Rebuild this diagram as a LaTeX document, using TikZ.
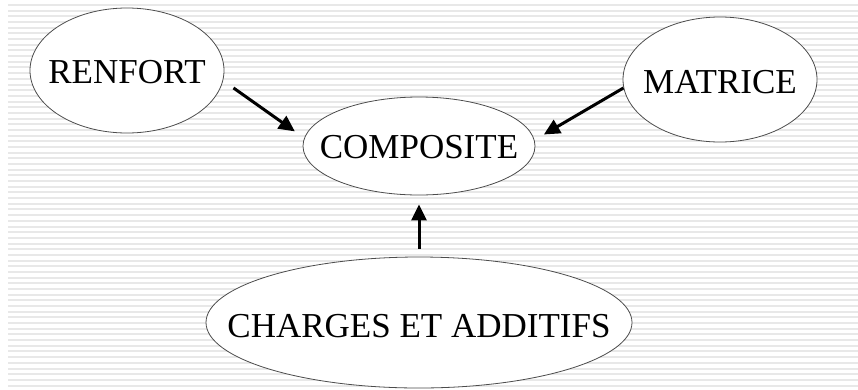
\documentclass[tikz,border=0pt]{standalone}
\usepackage{fontspec}
\setmainfont{Liberation Serif}
\usetikzlibrary{shapes.geometric,arrows.meta}
\tikzset{
  stripe/.style={fill=black!9},
  ell/.style={ellipse, draw=black!70, line width=0.8pt, fill=white, inner sep=0pt},
  lbl/.style={font=\fontsize{35}{35}\selectfont, inner sep=0pt, text depth=0pt, text=black},
  arr/.style={line width=3pt, -{Triangle[length=16pt,width=15pt]}}
}
\begin{document}
\begin{tikzpicture}[x=1pt,y=-1pt]
\useasboundingbox (0,0) rectangle (858,389);
\fill[white] (0,0) rectangle (858,389);
\foreach \k in {0,...,67} \fill[stripe] (8,{4+5.68*\k}) rectangle (858,{6+5.68*\k});

\node[ell, minimum width=194pt, minimum height=125pt] (renfort) at (127,70.5) {};
\node[ell, minimum width=232pt, minimum height=98pt] (composite) at (419,146) {};
\node[ell, minimum width=194pt, minimum height=125pt] (matrice) at (720,79.5) {};
\node[ell, minimum width=426pt, minimum height=131pt] (charges) at (419,322.5) {};

\node[lbl, text height=25pt] (trenfort) at (renfort.center) {RENFORT};
\node[lbl, text height=25pt] (tcomposite) at (composite.center) {COMPOSITE};
\node[lbl, text height=27pt] (tmatrice) at (matrice.center) {MATRICE};
\node[lbl, text height=30pt] (tcharges) at (charges.center) {CHARGES ET ADDITIFS};

\draw[arr, shorten <=12.7pt, shorten >=11.4pt] (renfort.-6) -- (composite.176.3);
\draw[arr, shorten >=10.8pt] (matrice.185) -- (composite.3.8);
\draw[arr, shorten <=8pt, shorten >=9pt] (charges.north) -- (composite.south);
\end{tikzpicture}
\end{document}
